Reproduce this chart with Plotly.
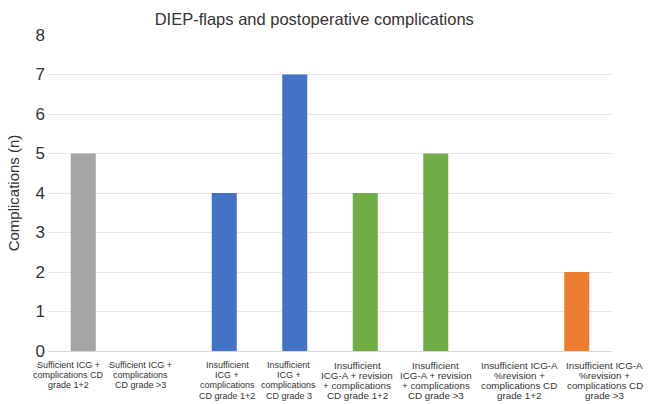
import plotly.graph_objects as go

categories = [
    "Sufficient ICG +<br>complications CD<br>grade 1+2",
    "Sufficient ICG +<br>complications<br>CD grade >3",
    "Insufficient<br>ICG +<br>complications<br>CD grade 1+2",
    "Insufficient<br>ICG +<br>complications<br>CD grade 3",
    "Insufficient<br>ICG-A + revision<br>+ complications<br>CD grade 1+2",
    "Insufficient<br>ICG-A + revision<br>+ complications<br>CD grade >3",
    "Insufficient ICG-A<br>%revision +<br>complications CD<br>grade 1+2",
    "Insufficient ICG-A<br>%revision +<br>complications CD<br>grade >3",
]
values = [5, 0, 4, 7, 4, 5, 0, 2]
colors = ["#A5A5A5", "#A5A5A5", "#4472C4", "#4472C4", "#70AD47", "#70AD47", "#ED7D31", "#ED7D31"]
yticks = [0, 1, 2, 3, 4, 5, 6, 7, 8]

# label placement (style only): horizontal pixel offsets and font sizes of the wrapped labels
label_xshift = [-15, -13, 3, -6, -8, 0, 13, 28]
label_size = [9, 9, 9, 9, 9.8, 9.8, 9.8, 9.8]

xs = list(range(len(categories)))

fig = go.Figure(go.Bar(x=xs, y=values, marker=dict(color=colors, line=dict(width=0)), width=0.355))

annotations = []
for i, (lab, dx, fs) in enumerate(zip(categories, label_xshift, label_size)):
    for j, line in enumerate(lab.split("<br>")):
        annotations.append(dict(
            x=xs[i], y=0, xref="x", yref="y", text=line, showarrow=False,
            xanchor="center", yanchor="middle", xshift=dx, yshift=-(14 + 10.2 * j),
            font=dict(size=fs, color="#333333"),
        ))

fig.update_layout(
    width=648, height=404,
    margin=dict(l=48, r=36, t=35, b=53),
    paper_bgcolor="white", plot_bgcolor="white",
    font=dict(family="Liberation Sans, Arial, sans-serif", color="#333333"),
    title=dict(text="DIEP-flaps and postoperative complications", x=0.485, xanchor="center",
               y=0.953, yanchor="middle", font=dict(size=16.5, color="#333333")),
    showlegend=False,
    annotations=annotations,
    xaxis=dict(tickvals=xs, showticklabels=False, range=[-0.5, 7.5],
               showgrid=False, showline=True, linecolor="#d9d9d9", linewidth=1,
               ticks="", automargin=False),
    yaxis=dict(range=[0, 8], tickvals=yticks, showgrid=True, gridcolor="#e8e8e8", gridwidth=1,
               zeroline=False, tickfont=dict(size=17, color="#333333"), ticks="",
               ticklabelstandoff=2,
               title=dict(text="Complications (n)", font=dict(size=15, color="#333333"), standoff=12),
               automargin=False),
)

fig.write_html("out.html")
